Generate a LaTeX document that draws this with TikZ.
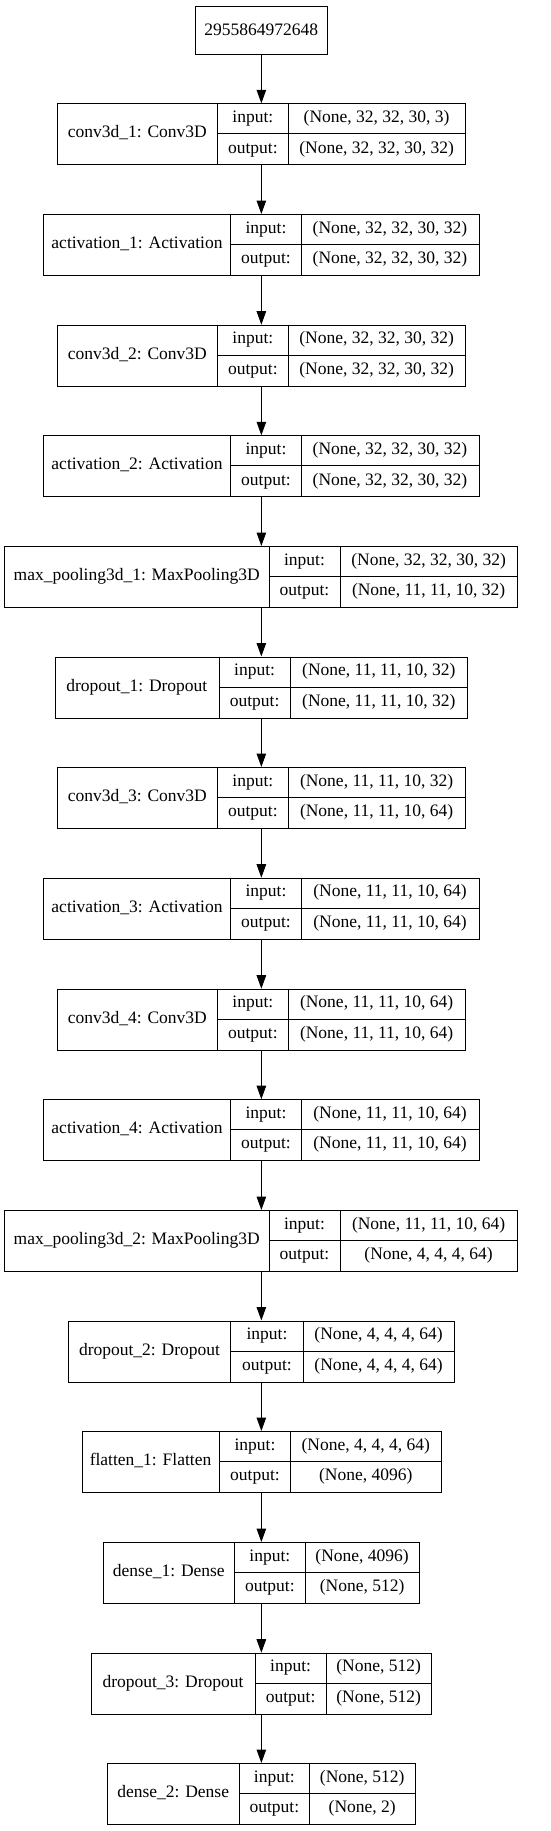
\documentclass[tikz,border=0pt]{standalone}
\usepackage{fontspec}
\setmainfont{Liberation Serif}
\usetikzlibrary{arrows.meta}
\tikzset{
  box/.style={draw=black, line width=1pt, rectangle, inner sep=0pt, minimum height=61pt},
  cell/.style={draw=black, line width=1pt},
  txt/.style={inner sep=0pt, font=\fontsize{17.5pt}{20pt}\selectfont, anchor=center},
  flow/.style={draw=black, line width=1pt, -{Triangle[length=13.5pt,width=9.5pt]}}
}
\newcommand\klayer[9]{%
  \node[box, minimum width={(#6)-(#3)}, anchor=north west] (#1) at (#3,#2) {};
  \draw[cell] ({#4},{#2}) -- ({#4},{#2+61});
  \draw[cell] ({#4},{#2+30.5}) -- ({#6},{#2+30.5});
  \draw[cell] ({#5},{#2}) -- ({#5},{#2+61});
  \node[txt] (#1-l) at ({(#3+#4)/2},{#2+30.5}) {\strut #7};
  \node[txt] (#1-i) at ({(#4+#5)/2},{#2+15.25}) {\strut input:};
  \node[txt] (#1-o) at ({(#4+#5)/2},{#2+45.75}) {\strut output:};
  \node[txt] (#1-iv) at ({(#5+#6)/2},{#2+15.25}) {\strut #8};
  \node[txt] (#1-ov) at ({(#5+#6)/2},{#2+45.75}) {\strut #9};
}
\begin{document}
\begin{tikzpicture}[x=1pt,y=-1pt]
\useasboundingbox (0,0) rectangle (551,1831);
\node[draw=black, line width=1pt, inner sep=0pt, minimum width=131.7pt, minimum height=48pt, anchor=north west, font=\fontsize{17.5pt}{20pt}\selectfont] (in) at (195,5.7) {2955864972648};
\klayer{L1}{103.3}{57}{217.7}{288}{465.3}{conv3d\_1: Conv3D}{(None, 32, 32, 30, 3)}{(None, 32, 32, 30, 32)}
\klayer{L2}{214}{43.3}{230.7}{301.3}{478.7}{activation\_1: Activation}{(None, 32, 32, 30, 32)}{(None, 32, 32, 30, 32)}
\klayer{L3}{324.7}{57}{217.7}{288}{465.3}{conv3d\_2: Conv3D}{(None, 32, 32, 30, 32)}{(None, 32, 32, 30, 32)}
\klayer{L4}{435.3}{43.3}{230.7}{301.3}{478.7}{activation\_2: Activation}{(None, 32, 32, 30, 32)}{(None, 32, 32, 30, 32)}
\klayer{L5}{546}{4.3}{269}{340}{517.3}{max\_pooling3d\_1: MaxPooling3D}{(None, 32, 32, 30, 32)}{(None, 11, 11, 10, 32)}
\klayer{L6}{656.5}{54.7}{219}{290.3}{467.3}{dropout\_1: Dropout}{(None, 11, 11, 10, 32)}{(None, 11, 11, 10, 32)}
\klayer{L7}{767}{57}{217.7}{288}{465.3}{conv3d\_3: Conv3D}{(None, 11, 11, 10, 32)}{(None, 11, 11, 10, 64)}
\klayer{L8}{877.7}{43.3}{230.7}{301.3}{478.7}{activation\_3: Activation}{(None, 11, 11, 10, 64)}{(None, 11, 11, 10, 64)}
\klayer{L9}{988.7}{57}{217.7}{288}{465.3}{conv3d\_4: Conv3D}{(None, 11, 11, 10, 64)}{(None, 11, 11, 10, 64)}
\klayer{L10}{1099.2}{43.3}{230.7}{301.3}{478.7}{activation\_4: Activation}{(None, 11, 11, 10, 64)}{(None, 11, 11, 10, 64)}
\klayer{L11}{1210}{4.3}{269}{340}{517.3}{max\_pooling3d\_2: MaxPooling3D}{(None, 11, 11, 10, 64)}{(None, 4, 4, 4, 64)}
\klayer{L12}{1320.5}{68.3}{230.7}{303.3}{454}{dropout\_2: Dropout}{(None, 4, 4, 4, 64)}{(None, 4, 4, 4, 64)}
\klayer{L13}{1431}{81.7}{219.3}{290.7}{440.7}{flatten\_1: Flatten}{(None, 4, 4, 4, 64)}{(None, 4096)}
\klayer{L14}{1542}{103}{234.7}{305}{419.3}{dense\_1: Dense}{(None, 4096)}{(None, 512)}
\klayer{L15}{1652.7}{90.7}{255.3}{326}{431.3}{dropout\_3: Dropout}{(None, 512)}{(None, 512)}
\klayer{L16}{1763}{107.3}{239}{309.7}{414.7}{dense\_2: Dense}{(None, 512)}{(None, 2)}
\draw[flow] (in.south) -- (in.south |- L1.north);
\foreach \a/\b in {L1/L2,L2/L3,L3/L4,L4/L5,L5/L6,L6/L7,L7/L8,L8/L9,L9/L10,L10/L11,L11/L12,L12/L13,L13/L14,L14/L15,L15/L16}
  \draw[flow] (\a.south -| in.south) -- (\b.north -| in.south);
\end{tikzpicture}
\end{document}
